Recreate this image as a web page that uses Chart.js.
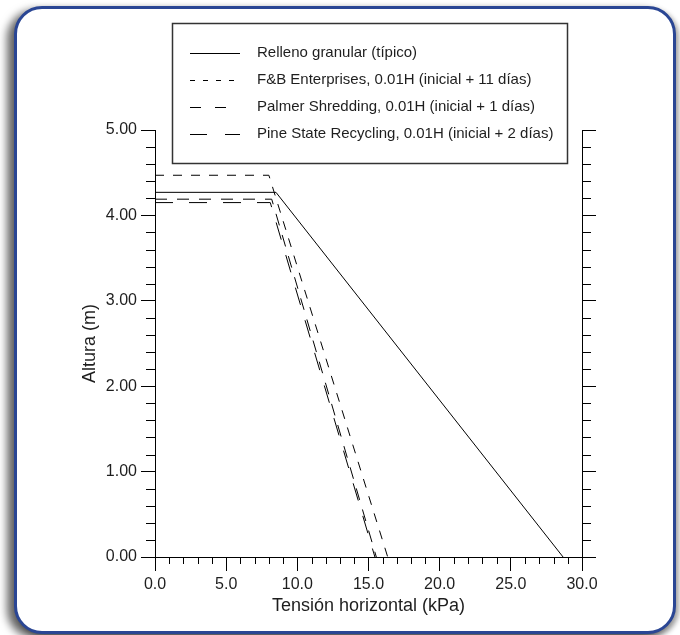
<!DOCTYPE html>
<html>
<head>
<meta charset="utf-8">
<script src="https://cdn.jsdelivr.net/npm/chart.js@4.4.1/dist/chart.umd.min.js"></script>
<style>
    html, body { margin: 0; padding: 0; background: #fff; }
    body { width: 680px; height: 635px; position: relative; overflow: hidden; }
    #frame {
        position: absolute; left: 14px; top: 6px; width: 656px; height: 622px;
        border: 3px solid #2a4694; border-radius: 28px; background: #fff;
        box-shadow: -7px 4px 8px rgba(0,0,0,0.6), 3px 3px 5px rgba(0,0,0,0.35);
    }
    #chart { position: absolute; left: 0; top: 0; }
</style>
</head>
<body>
<div id="frame"></div>
<canvas id="chart" width="680" height="635"></canvas>
<script>
// series (x = tension kPa, y = altura m)
let series_names = [
    "Relleno granular (típico)",
    "F&B Enterprises, 0.01H (inicial + 11 días)",
    "Palmer Shredding, 0.01H (inicial + 1 días)",
    "Pine State Recycling, 0.01H (inicial + 2 días)",
];
let relleno_x = [0, 8.5, 28.67];
let relleno_y = [4.27, 4.27, 0];
let fb_x = [0, 8.0, 16.35];
let fb_y = [4.47, 4.47, 0];
let palmer_x = [0, 8.2, 15.55];
let palmer_y = [4.19, 4.19, 0];
let pine_x = [0, 8.1, 15.45];
let pine_y = [4.15, 4.15, 0];

let x_range = [0, 30];
let y_range = [0, 5];
let x_major_step = 5;
let y_major_step = 1;

let dash_plot = [[], [9, 9], [12, 10], [18, 16]];
let dash_legend = [[], [5, 8], [11, 14], [17, 18]];

let font_family = "'Liberation Sans', Arial, sans-serif";
let text_color = "#1e1e1e";

function to_points(xs, ys) {
    let pts = [];
    for (let i = 0; i < xs.length; i++) {
        pts.push({x: xs[i], y: ys[i]});
    }
    return pts;
}

let all_x = [relleno_x, fb_x, palmer_x, pine_x];
let all_y = [relleno_y, fb_y, palmer_y, pine_y];

let datasets = [];
for (let i = 0; i < series_names.length; i++) {
    datasets.push({
        label: series_names[i],
        data: to_points(all_x[i], all_y[i]),
        showLine: true,
        borderColor: "#000",
        borderWidth: 1,
        borderDash: dash_plot[i],
        pointRadius: 0,
        fill: false,
        tension: 0,
    });
}

// minor tick marks, drawn from the scales
let minorTicks = {
    id: 'minorTicks',
    afterDraw: (chart) => {
        const {ctx} = chart;
        const x = chart.scales.x, y = chart.scales.y, y2 = chart.scales.y2;
        ctx.save();
        ctx.strokeStyle = "#000";
        ctx.lineWidth = 1;
        ctx.beginPath();
        for (let v = y_range[0]; v < y_range[1]; v += 1) {
            for (let k = 1; k < 5; k++) {
                let py = Math.round(y.getPixelForValue(v + k * 0.2)) + 0.5;
                ctx.moveTo(y.right - 9, py);
                ctx.lineTo(y.right, py);
                ctx.moveTo(y2.left, py);
                ctx.lineTo(y2.left + 9, py);
            }
        }
        for (let v = x_range[0] + 1; v < x_range[1]; v++) {
            if (v % x_major_step === 0) continue;
            let px = Math.round(x.getPixelForValue(v)) + 0.5;
            ctx.moveTo(px, x.top);
            ctx.lineTo(px, x.top + 7);
        }
        ctx.stroke();
        ctx.restore();
    }
};

let boxLegend = {
    id: 'boxLegend',
    afterDraw: (chart) => {
        const {ctx} = chart;
        ctx.save();
        ctx.fillStyle = "#fff";
        ctx.fillRect(173, 24, 394, 139);
        ctx.strokeStyle = "#333";
        ctx.lineWidth = 1.5;
        ctx.strokeRect(172.5, 23.5, 395, 140);
        ctx.font = "15px " + font_family;
        ctx.textBaseline = "middle";
        ctx.textAlign = "left";
        for (let i = 0; i < series_names.length; i++) {
            let ry = 53 + i * 27;
            ctx.strokeStyle = "#000";
            ctx.lineWidth = 1;
            ctx.setLineDash(dash_legend[i]);
            ctx.beginPath();
            ctx.moveTo(190, ry + 0.5);
            ctx.lineTo(240, ry + 0.5);
            ctx.stroke();
            ctx.setLineDash([]);
            ctx.fillStyle = text_color;
            ctx.fillText(series_names[i], 257, ry);
        }
        ctx.restore();
    }
};

new Chart(document.getElementById('chart'), {
    type: 'scatter',
    data: {datasets: datasets},
    plugins: [minorTicks, boxLegend],
    options: {
        responsive: false,
        animation: false,
        devicePixelRatio: 1,
        layout: {padding: {top: 130, left: 0, right: 0, bottom: 0}},
        plugins: {
            legend: {display: false},
            tooltip: {enabled: false},
        },
        scales: {
            x: {
                type: 'linear',
                position: 'bottom',
                min: x_range[0],
                max: x_range[1],
                afterFit: (s) => { s.height = 78; },
                ticks: {
                    stepSize: x_major_step,
                    color: text_color,
                    font: {family: font_family, size: 16},
                    padding: 4,
                    maxRotation: 0,
                    autoSkip: false,
                    callback: (v) => v.toFixed(1),
                },
                grid: {drawOnChartArea: false, tickLength: 14, color: "#000", tickColor: "#000"},
                border: {display: true, color: "#000", width: 1},
                title: {
                    display: true,
                    text: "Tensión horizontal (kPa)",
                    color: text_color,
                    font: {family: font_family, size: 18},
                    padding: {top: 0, bottom: 18},
                },
            },
            y: {
                type: 'linear',
                position: 'left',
                min: y_range[0],
                max: y_range[1],
                afterFit: (s) => { s.width = 155; },
                ticks: {
                    stepSize: y_major_step,
                    color: text_color,
                    font: {family: font_family, size: 16},
                    padding: 4,
                    callback: (v) => v.toFixed(2),
                },
                grid: {drawOnChartArea: false, tickLength: 14, color: "#000", tickColor: "#000"},
                border: {display: true, color: "#000", width: 1},
                title: {
                    display: true,
                    text: "Altura (m)",
                    color: text_color,
                    font: {family: font_family, size: 18},
                    padding: {top: 79, bottom: 0},
                },
            },
            y2: {
                type: 'linear',
                position: 'right',
                min: y_range[0],
                max: y_range[1],
                afterFit: (s) => { s.width = 98; },
                ticks: {stepSize: y_major_step, display: false},
                grid: {drawOnChartArea: false, tickLength: 14, color: "#000", tickColor: "#000"},
                border: {display: true, color: "#000", width: 1},
            },
        },
    },
});
</script>
</body>
</html>
